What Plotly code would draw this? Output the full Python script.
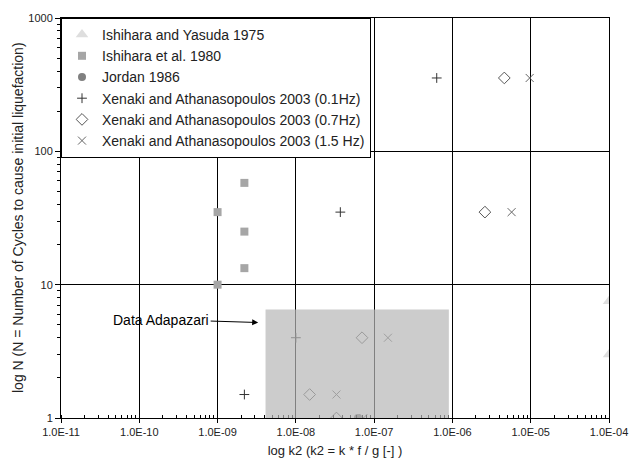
import math
import plotly.graph_objects as go

# ---- data ----
yasuda_k2 = [1e-4, 1e-4]
yasuda_N = [7.5, 3.0]

ishihara80_k2 = [1e-9, 1e-9, 2.2e-9, 2.2e-9, 2.2e-9]
ishihara80_N = [35, 10, 58, 25, 13.3]

jordan_k2 = [6.2e-8]
jordan_N = [1.0]

xen01_k2 = [2.2e-9, 1.0e-8, 3.7e-8, 6.3e-7]
xen01_N = [1.5, 4.0, 35, 355]

xen07_k2 = [1.5e-8, 3.3e-8, 7.0e-8, 2.6e-6, 4.6e-6]
xen07_N = [1.5, 1.0, 4.0, 35, 355]

xen15_k2 = [3.3e-8, 7.3e-8, 1.5e-7, 5.7e-6, 9.7e-6]
xen15_N = [1.5, 1.0, 4.0, 35, 355]

adapazari_k2 = [4.1e-9, 9.0e-7]
adapazari_N = [1.0, 6.5]
adapazari_arrow_k2 = 3.3e-9
adapazari_arrow_N = 5.2

x_tickvals = [1e-11, 1e-10, 1e-9, 1e-8, 1e-7, 1e-6, 1e-5, 1e-4]
x_ticktext = ["1.0E-11", "1.0E-10", "1.0E-09", "1.0E-08", "1.0E-07", "1.0E-06", "1.0E-05", "1.0E-04"]
y_tickvals = [1, 10, 100, 1000]
y_ticktext = ["1", "10", "100", "1000"]

FONT = "Liberation Sans, Arial"

fig = go.Figure()

series = [
    ("Ishihara and Yasuda 1975", yasuda_k2, yasuda_N,
     dict(symbol="triangle-up", size=11, color="#dedede")),
    ("Ishihara et al. 1980", ishihara80_k2, ishihara80_N,
     dict(symbol="square", size=8, color="#a6a6a6")),
    ("Jordan 1986", jordan_k2, jordan_N,
     dict(symbol="circle", size=8, color="#808080")),
    ("Xenaki and Athanasopoulos 2003 (0.1Hz)", xen01_k2, xen01_N,
     dict(symbol="cross-thin-open", size=7, color="#333333", line=dict(width=1, color="#333333"))),
    ("Xenaki and Athanasopoulos 2003 (0.7Hz)", xen07_k2, xen07_N,
     dict(symbol="diamond-open", size=9, color="#555555", line=dict(width=1, color="#555555"))),
    ("Xenaki and Athanasopoulos 2003 (1.5 Hz)", xen15_k2, xen15_N,
     dict(symbol="x-thin-open", size=8, color="#666666", line=dict(width=1, color="#666666"))),
]

for i, (name, xs, ys, mk) in enumerate(series):
    fig.add_trace(go.Scatter(x=xs, y=ys, mode="markers", name=name, marker=mk))

fig.add_shape(type="rect", xref="x", yref="y",
              x0=adapazari_k2[0], x1=adapazari_k2[1],
              y0=adapazari_N[0], y1=adapazari_N[1],
              fillcolor="rgb(183,183,183)", opacity=0.7, line=dict(width=0),
              layer="above")

fig.add_annotation(x=math.log10(adapazari_arrow_k2), y=math.log10(adapazari_arrow_N),
                   xref="x", yref="y", text="Data Adapazari",
                   showarrow=True, arrowhead=2, arrowsize=1.2, arrowwidth=1,
                   arrowcolor="#000000", ax=-97, ay=-3,
                   font=dict(family=FONT, size=14, color="#000000"))

# y-axis title placed as a rotated paper annotation (centred ~18 px from the left edge)
fig.add_annotation(xref="paper", yref="paper", x=-43 / 548, y=0.5,
                   xanchor="center", yanchor="middle", showarrow=False, textangle=-90,
                   text="log N (N = Number of Cycles to cause initial liquefaction)",
                   font=dict(family=FONT, size=14, color="#222222"))

fig.update_xaxes(type="log", range=[-11, -4], automargin=False,
                 tickvals=x_tickvals, ticktext=x_ticktext,
                 showgrid=True, gridcolor="#000000", gridwidth=1,
                 showline=True, linecolor="#000000", linewidth=1, mirror=True,
                 ticks="outside", ticklen=4, tickcolor="#000000",
                 minor=dict(ticks="inside", ticklen=3, tickcolor="#000000",
                            dtick="D1", showgrid=False),
                 zeroline=False,
                 tickfont=dict(family=FONT, size=11, color="#222222"),
                 title=dict(text="log k2 (k2 = k * f / g [-] )", standoff=8,
                            font=dict(family=FONT, size=13, color="#222222")))

fig.update_yaxes(type="log", range=[0, 3], automargin=False,
                 tickvals=y_tickvals, ticktext=y_ticktext,
                 showgrid=True, gridcolor="#000000", gridwidth=1,
                 showline=True, linecolor="#000000", linewidth=1, mirror=True,
                 ticks="outside", ticklen=5, tickcolor="#000000",
                 minor=dict(ticks="outside", ticklen=3, tickcolor="#000000",
                            dtick="D1", showgrid=False),
                 zeroline=False,
                 tickfont=dict(family=FONT, size=11, color="#222222"))

fig.update_layout(
    width=630, height=463,
    margin=dict(l=61, r=21, t=18, b=45, autoexpand=False),
    plot_bgcolor="#ffffff", paper_bgcolor="#ffffff",
    legend=dict(x=0, y=1, xanchor="left", yanchor="top",
                bgcolor="#ffffff", bordercolor="#000000", borderwidth=1,
                font=dict(family=FONT, size=14, color="#222222"),
                itemwidth=30, tracegroupgap=0),
    showlegend=True,
)

fig.write_html("out.html", config={"displayModeBar": False},
               post_script="document.body.style.margin='0';document.body.style.overflow='hidden';")
